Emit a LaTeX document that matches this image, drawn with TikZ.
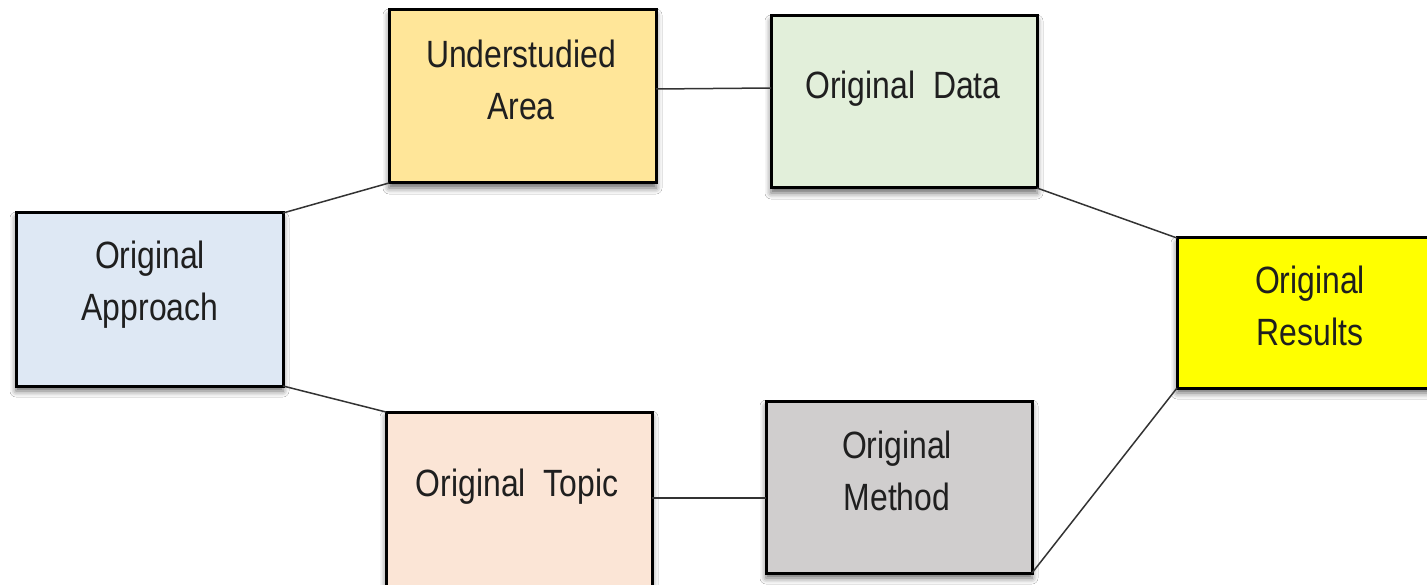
\documentclass[tikz,border=0pt]{standalone}
\usepackage{fontspec}
\setmainfont{Liberation Sans}[FakeStretch=0.84]
\usetikzlibrary{shadows.blur}
\definecolor{cApproach}{HTML}{DEE8F4}
\definecolor{cArea}{HTML}{FFE699}
\definecolor{cData}{HTML}{E2EFDA}
\definecolor{cResults}{HTML}{FFFF00}
\definecolor{cTopic}{HTML}{FBE5D6}
\definecolor{cMethod}{HTML}{D0CECE}
\definecolor{txt}{HTML}{1F1F1F}
\definecolor{edge}{HTML}{333333}
\tikzset{
  box/.style={draw=black, line width=3pt, anchor=north west, inner sep=0pt, outer sep=0pt,
    blur shadow={shadow xshift=0pt, shadow yshift=-5pt, shadow blur radius=6pt, shadow opacity=60}},
  lbl/.style={align=center, inner sep=0pt, text=txt, font=\fontsize{38}{52}\selectfont},
  conn/.style={draw=edge, line width=1.5pt}
}
\begin{document}
\begin{tikzpicture}[x=1pt, y=-1pt]
\useasboundingbox (0,0) rectangle (1427,585);
\clip (0,0) rectangle (1427,585);
\fill[white] (0,0) rectangle (1427,585);
% boxes
\node[box, fill=cApproach, minimum width=267pt, minimum height=173pt] (app) at (16,213) {};
\node[box, fill=cArea, minimum width=267pt, minimum height=173pt] (area) at (389,10) {};
\node[box, fill=cData, minimum width=266pt, minimum height=172pt] (data) at (771,16) {};
\node[box, fill=cResults, minimum width=280pt, minimum height=150pt] (res) at (1177,238) {};
\node[box, fill=cTopic, minimum width=266pt, minimum height=190pt] (topic) at (386,412) {};
\node[box, fill=cMethod, minimum width=266pt, minimum height=172pt] (meth) at (766,401) {};
% labels
\node[lbl] (tapp) at (150,285) {Original\\Approach};
\node[lbl] (tarea) at (521,80) {Understudied\\Area};
\node[lbl] (tdata) at (903,89) {Original\ \ Data};
\node[lbl] (tres) at (1310,306) {Original\\Results};
\node[lbl] (ttopic) at (517,487) {Original\ \ Topic};
\node[lbl] (tmeth) at (897,471) {Original\\Method};
% connectors
\draw[conn] (app.north east) -- (area.south west);
\draw[conn] (app.south east) -- (topic.north west);
\draw[conn] (area.east |- 0,89) -- (data.west |- 0,88);
\draw[conn] (data.south east) -- (res.north west);
\draw[conn] (topic.east |- 0,498) -- (meth.west |- 0,498);
\draw[conn] (meth.south east) -- (res.south west);
\end{tikzpicture}
\end{document}
